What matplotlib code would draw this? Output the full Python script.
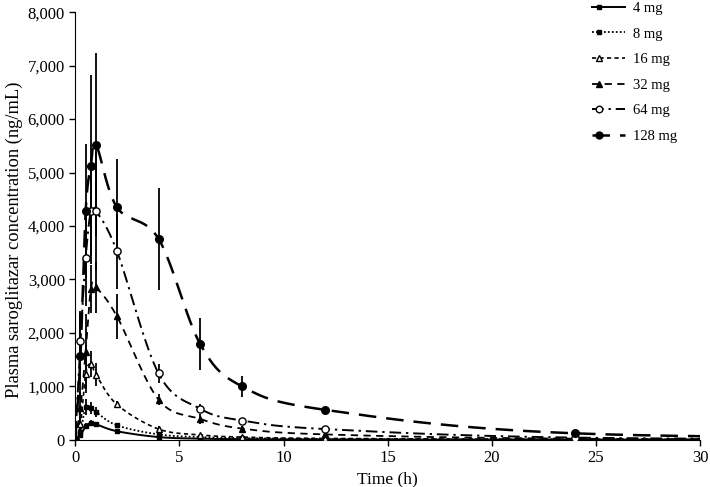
import numpy as np
import matplotlib
matplotlib.use("Agg")
import matplotlib.pyplot as plt
from matplotlib.ticker import FuncFormatter, MultipleLocator
from matplotlib.legend_handler import HandlerLine2D
from matplotlib.lines import Line2D

plt.rcParams['font.family'] = ['Liberation Serif', 'DejaVu Serif']

time_h = [0, 0.25, 0.5, 0.75, 1, 2, 4, 6, 8, 12, 24, 48]
dose_labels = ["4 mg", "8 mg", "16 mg", "32 mg", "64 mg", "128 mg"]

mean_4 = [0, 80, 260, 310, 290, 160, 50, 20, 12, 5, 2, 0]
mean_8 = [0, 150, 620, 600, 520, 270, 100, 50, 30, 15, 5, 0]
mean_16 = [0, 300, 1230, 1420, 1220, 660, 200, 90, 50, 25, 8, 0]
mean_32 = [0, 600, 1650, 2820, 2850, 2310, 750, 390, 210, 100, 20, 2]
mean_64 = [0, 1850, 3400, 4280, 4280, 3530, 1240, 580, 360, 200, 40, 5]
mean_128 = [0, 1570, 4280, 5130, 5520, 4350, 3760, 1790, 1000, 560, 120, 20]

sd_4 = [0, 20, 60, 60, 50, 30, 15, 8, 5, 2, 1, 0]
sd_8 = [0, 50, 150, 110, 100, 50, 30, 15, 10, 5, 2, 0]
sd_16 = [0, 150, 350, 250, 220, 70, 50, 25, 15, 8, 3, 0]
sd_32 = [0, 300, 700, 450, 470, 420, 100, 90, 40, 20, 8, 0]
sd_64 = [0, 550, 900, 1000, 1100, 700, 180, 80, 40, 25, 10, 0]
sd_128 = [0, 800, 1250, 1700, 1710, 900, 950, 490, 200, 60, 30, 0]

means = [mean_4, mean_8, mean_16, mean_32, mean_64, mean_128]
sds = [sd_4, sd_8, sd_16, sd_32, sd_64, sd_128]

styles = [
    dict(ls='-', marker='s', mfc='black', ms=3.5, lw=1.4),
    dict(ls=(0, (1, 1.2)), marker='s', mfc='black', ms=3.2, lw=1.3),
    dict(ls=(0, (2.5, 2)), marker='^', mfc='white', ms=4.5, lw=1.2),
    dict(ls=(0, (4, 3)), marker='^', mfc='black', ms=4.5, lw=1.3),
    dict(ls=(0, (6, 2.5, 1.2, 2.5)), marker='o', mfc='white', ms=5.2, lw=1.4),
    dict(ls=(0, (7, 4)), marker='o', mfc='black', ms=5.5, lw=1.8),
]


def smooth(x, y, n=40):
    # Catmull-Rom style smoothing through the data points
    x = np.asarray(x, float)
    y = np.asarray(y, float)
    px = np.concatenate([[2 * x[0] - x[1]], x, [2 * x[-1] - x[-2]]])
    py = np.concatenate([[2 * y[0] - y[1]], y, [2 * y[-1] - y[-2]]])
    xs, ys = [], []
    for i in range(1, len(px) - 2):
        p0, p1, p2, p3 = (np.array([px[j], py[j]]) for j in range(i - 1, i + 3))
        c1 = p1 + (p2 - p0) / 6.0
        c2 = p2 - (p3 - p1) / 6.0
        t = np.linspace(0, 1, n)[:, None]
        b = ((1 - t) ** 3) * p1 + 3 * ((1 - t) ** 2) * t * c1 + 3 * (1 - t) * t ** 2 * c2 + t ** 3 * p2
        xs.append(b[:, 0])
        ys.append(b[:, 1])
    return np.concatenate(xs), np.concatenate(ys)


class LeftMarkerHandler(HandlerLine2D):
    """Legend handle: full line with the marker placed near its left end."""
    def create_artists(self, legend, orig_handle, xdescent, ydescent, width,
                       height, fontsize, trans):
        y = height / 2.0 - ydescent
        line = Line2D([-xdescent, -xdescent + width], [y, y])
        self.update_prop(line, orig_handle, legend)
        line.set_marker('')
        mk = Line2D([-xdescent + 0.22 * width], [y])
        self.update_prop(mk, orig_handle, legend)
        mk.set_linestyle('none')
        line.set_transform(trans)
        mk.set_transform(trans)
        return [line, mk]


fig = plt.figure(figsize=(7.10, 4.87), dpi=100)
ax = fig.add_axes([0.106, 0.097, 0.880, 0.878])

tvals = np.array(time_h, float)
handles = []
for lab, m, s, st in zip(dose_labels, means, sds, styles):
    m = np.array(m, float)
    s = np.array(s, float)
    sx, sy = smooth(tvals, m)
    ax.plot(sx, sy, color='black', ls=st['ls'], lw=st['lw'], zorder=2)
    vis = tvals <= 30
    ax.errorbar(tvals[vis], m[vis], yerr=s[vis], fmt='none', ecolor='black',
                elinewidth=1.3, capsize=0, zorder=3)
    ax.plot(tvals[vis], m[vis], ls='none', marker=st['marker'], mfc=st['mfc'],
            mec='black', mew=1.0, ms=st['ms'], zorder=4)
    h, = ax.plot([], [], color='black', ls=st['ls'], lw=st['lw'], marker=st['marker'],
                 mfc=st['mfc'], mec='black', ms=st['ms'] - 0.5, label=lab)
    handles.append(h)

ax.set_xlim(0, 30)
ax.set_ylim(0, 8000)
ax.xaxis.set_major_locator(MultipleLocator(5))
ax.yaxis.set_major_locator(MultipleLocator(1000))
ax.yaxis.set_major_formatter(FuncFormatter(lambda v, p: f"{int(v):,}"))
for sp in ['top', 'right']:
    ax.spines[sp].set_visible(False)
ax.tick_params(direction='out', length=4, labelsize=12, width=1)
ax.set_xlabel("Time (h)", fontsize=12.5)
ax.set_ylabel("Plasma saroglitazar concentration (ng/mL)", fontsize=13.3)
ax.yaxis.set_label_coords(-0.083, 0.467)

ax.legend(handles=handles, loc='upper right', bbox_to_anchor=(0.985, 1.055),
          frameon=False, fontsize=10.5, handlelength=2.3, handletextpad=0.55,
          labelspacing=0.85,
          handler_map={Line2D: LeftMarkerHandler()})

fig.savefig("out.png", dpi=100)
